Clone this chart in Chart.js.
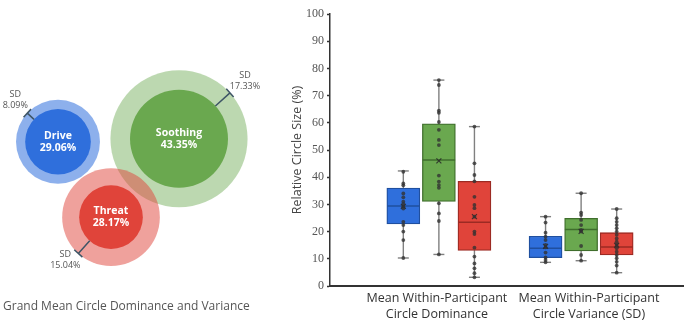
<!DOCTYPE html>
<html><head><meta charset="utf-8">
<script src="https://cdn.jsdelivr.net/npm/chart.js@4"></script>
<style>
html,body{margin:0;padding:0;background:#fff;width:690px;height:321px;overflow:hidden}
#left{position:absolute;left:0;top:0;width:280px;height:321px}
#right{position:absolute;left:280px;top:0;width:410px;height:321px}
</style></head><body>
<div id="left"><canvas id="c1"></canvas></div>
<div id="right"><canvas id="c2"></canvas></div>
<script>
// ---------- DATA ----------
const systems = ['Drive', 'Soothing', 'Threat'];
const grandMeans = [29.06, 43.35, 28.17];
const grandSDs = [8.09, 17.33, 15.04];

const groupLabels = [['Mean Within-Participant', 'Circle Dominance'], ['Mean Within-Participant', 'Circle Variance (SD)']];
const yTickValues = [0, 10, 20, 30, 40, 50, 60, 70, 80, 90, 100];

// box statistics: [group][system]  (group 0 = dominance, group 1 = variance)
const boxMin    = [[10.3, 11.6, 3.2], [8.7, 9.3, 4.9]];
const boxQ1     = [[22.8, 31.1, 13.1], [10.4, 12.9, 11.4]];
const boxMedian = [[29.4, 46.3, 23.4], [13.9, 20.8, 14.3]];
const boxQ3     = [[36.0, 59.6, 38.5], [18.3, 24.9, 19.6]];
const boxMax    = [[42.3, 75.7, 58.6], [25.5, 34.1, 28.3]];
const boxMean   = [[29.3, 46.0, 25.5], [14.6, 20.1, 15.0]];

// individual participant values
const domDrive    = [42.0, 37.7, 37.0, 34.0, 32.6, 31.0, 30.1, 29.2, 28.5, 23.6, 22.4, 20.0, 16.9, 10.3];
const domSoothing = [75.7, 73.9, 64.5, 63.7, 60.3, 57.4, 53.7, 51.8, 40.6, 38.4, 37.1, 36.1, 30.4, 26.7, 23.9, 11.6];
const domThreat   = [58.6, 45.1, 40.8, 38.5, 32.8, 29.8, 28.6, 25.5, 20.0, 19.1, 14.1, 10.8, 8.3, 6.5, 4.7, 3.2];
const varDrive    = [25.5, 23.3, 19.6, 18.1, 16.9, 15.1, 14.2, 12.3, 10.5, 9.6, 8.7];
const varSoothing = [34.1, 27.0, 26.1, 24.3, 22.4, 20.6, 20.0, 14.7, 11.4, 9.3];
const varThreat   = [28.3, 24.9, 23.6, 22.4, 21.2, 20.0, 18.8, 17.5, 16.3, 15.1, 13.9, 12.6, 11.4, 10.2, 8.9, 7.5, 4.9];
const observations = [[domDrive, domSoothing, domThreat], [varDrive, varSoothing, varThreat]];

// ---------- STYLE / LAYOUT ----------
const fill   = ['#2f6fdc', '#6aa84f', '#e0443a'];
const stroke = ['#1f4f9f', '#3f6e2c', '#9c2a23'];
const outerFill = ['rgba(47,111,220,0.55)', 'rgba(106,168,79,0.45)', 'rgba(224,68,58,0.5)'];
const circleCenters = [[58, 141], [179, 138], [111, 216]];
const radiusPerPercent = 1.13;
const sdAngles = [-137, -42, 132];
const sdLabelOffsets = [[-12, -13], [15, -12], [-13, 6]];
const boxOffsets = [-0.25, 0, 0.25];
const boxHalf = 0.114;
const groupLabelPositions = [0.986, 2.055];

// ---------- LEFT: circles ----------
const circleLabels = {
  id: 'circleLabels',
  afterDatasetsDraw(chart) {
    const ctx = chart.ctx;
    const inner = chart.getDatasetMeta(1).data;
    ctx.save();
    inner.forEach((el, i) => {
      const rIn = radiusPerPercent * grandMeans[i];
      const rOut = radiusPerPercent * (grandMeans[i] + grandSDs[i]);
      const a = sdAngles[i] * Math.PI / 180;
      const ca = Math.cos(a), sa = Math.sin(a);
      const ex = el.x + rOut * ca, ey = el.y + rOut * sa;
      ctx.strokeStyle = '#3e5566';
      ctx.lineWidth = 1.5;
      ctx.beginPath();
      ctx.moveTo(el.x + rIn * ca, el.y + rIn * sa);
      ctx.lineTo(ex, ey);
      ctx.moveTo(ex - 5.5 * sa, ey + 5.5 * ca);
      ctx.lineTo(ex + 5.5 * sa, ey - 5.5 * ca);
      ctx.stroke();
      ctx.fillStyle = '#555';
      ctx.font = '9px "Open Sans"';
      ctx.textAlign = 'center';
      ctx.textBaseline = 'middle';
      const tx = ex + sdLabelOffsets[i][0], ty = ey + sdLabelOffsets[i][1];
      ctx.fillText('SD', tx, ty - 5.5);
      ctx.fillText(grandSDs[i].toFixed(2) + '%', tx, ty + 5.5);
      ctx.fillStyle = '#fff';
      ctx.font = 'bold 10.5px "Open Sans"';
      ctx.fillText(systems[i], el.x, el.y - 6);
      ctx.fillText(grandMeans[i].toFixed(2) + '%', el.x, el.y + 6);
    });
    ctx.restore();
  }
};

new Chart(document.getElementById('c1'), {
  type: 'bubble',
  data: {
    datasets: [
      {
        data: systems.map((s, i) => ({x: circleCenters[i][0], y: circleCenters[i][1]})),
        radius: c => radiusPerPercent * (grandMeans[c.dataIndex] + grandSDs[c.dataIndex]),
        backgroundColor: outerFill, borderWidth: 0, clip: false
      },
      {
        data: systems.map((s, i) => ({x: circleCenters[i][0], y: circleCenters[i][1]})),
        radius: c => radiusPerPercent * grandMeans[c.dataIndex],
        backgroundColor: fill, borderWidth: 0, clip: false
      }
    ]
  },
  options: {
    responsive: true, maintainAspectRatio: false, animation: false,
    layout: {autoPadding: false, padding: {left: 3, right: 0, top: 0, bottom: 0}},
    scales: {
      x: {type: 'linear', min: 3, max: 280, display: false},
      y: {type: 'linear', min: 0, max: 290, reverse: true, display: false}
    },
    plugins: {
      legend: {display: false}, tooltip: {enabled: false},
      title: {display: true, position: 'bottom', align: 'start', text: 'Grand Mean Circle Dominance and Variance',
        color: '#555', font: {family: 'Open Sans', size: 12, weight: 'normal'}, padding: {top: 8, bottom: 7}}
    }
  },
  plugins: [circleLabels]
});

// ---------- RIGHT: box plots ----------
const boxes = [], boxBg = [], boxBd = [], whiskers = [], medians = [], means = [], dots = [];
for (let g = 0; g < 2; g++) {
  for (let s = 0; s < 3; s++) {
    const cx = g + 1 + boxOffsets[s];
    boxes.push({x: cx, y: [boxQ1[g][s], boxQ3[g][s]]});
    boxBg.push(fill[s]); boxBd.push(stroke[s]);
    whiskers.push({x: cx, y: boxMin[g][s]}, {x: cx, y: boxMax[g][s]}, {x: cx, y: null});
    medians.push({x: cx - boxHalf, y: boxMedian[g][s]}, {x: cx + boxHalf, y: boxMedian[g][s]}, {x: cx, y: null});
    means.push({x: cx, y: boxMean[g][s]});
    observations[g][s].forEach(v => dots.push({x: cx, y: v}));
  }
}

new Chart(document.getElementById('c2'), {
  type: 'bar',
  data: {
    datasets: [
      {type: 'scatter', data: dots, pointRadius: 1.9, pointBackgroundColor: 'rgba(50,50,50,0.8)', pointBorderWidth: 0, order: 0},
      {type: 'scatter', data: means, pointStyle: 'crossRot', pointRadius: 3.5, pointBorderColor: 'rgba(40,40,40,0.85)', pointBorderWidth: 1.2, pointBackgroundColor: 'transparent', order: 1},
      {type: 'line', data: medians, spanGaps: false, pointRadius: 0, borderWidth: 1.5,
        segment: {borderColor: c => stroke[Math.floor(c.p0DataIndex / 3) % 3]}, order: 2},
      {type: 'bar', data: boxes, backgroundColor: boxBg, borderColor: boxBd, borderWidth: 1.3, borderSkipped: false,
        grouped: false, barThickness: 33, order: 3},
      {type: 'line', data: whiskers, spanGaps: false, borderColor: '#808080', borderWidth: 1.4,
        pointStyle: 'line', pointRadius: 5.5, pointBorderColor: '#808080', pointBorderWidth: 1.4, order: 4}
    ]
  },
  options: {
    responsive: true, maintainAspectRatio: false, animation: false,
    layout: {padding: {left: 0, right: 0, top: 14, bottom: 0}},
    plugins: {legend: {display: false}, tooltip: {enabled: false}},
    scales: {
      x: {
        type: 'linear', min: 0.2345, max: 2.717, offset: false,
        afterBuildTicks: s => { s.ticks = groupLabelPositions.map(v => ({value: v})); },
        afterFit: s => { s.height = 35; },
        grid: {display: false, drawTicks: false, offset: false},
        border: {display: true, color: '#333', width: 2},
        ticks: {callback: (v, i) => groupLabels[i], color: '#333', padding: 4,
          font: {family: 'Open Sans', size: 12.5, lineHeight: 1.28}, maxRotation: 0, autoSkip: false}
      },
      y: {
        min: 0, max: 100,
        afterBuildTicks: s => { s.ticks = yTickValues.map(v => ({value: v})); },
        afterFit: s => { s.width = 50; },
        grid: {drawOnChartArea: false, drawTicks: true, tickLength: 3, color: '#333', tickWidth: 1.5},
        border: {display: true, color: '#333', width: 1.5},
        ticks: {color: '#555', padding: 3, font: {family: 'Liberation Serif', size: 12}},
        title: {display: true, text: 'Relative Circle Size (%)', color: '#444',
          font: {family: 'Open Sans', size: 12.5}, padding: {top: 10, bottom: 0}}
      }
    }
  }
});
</script>
</body></html>
